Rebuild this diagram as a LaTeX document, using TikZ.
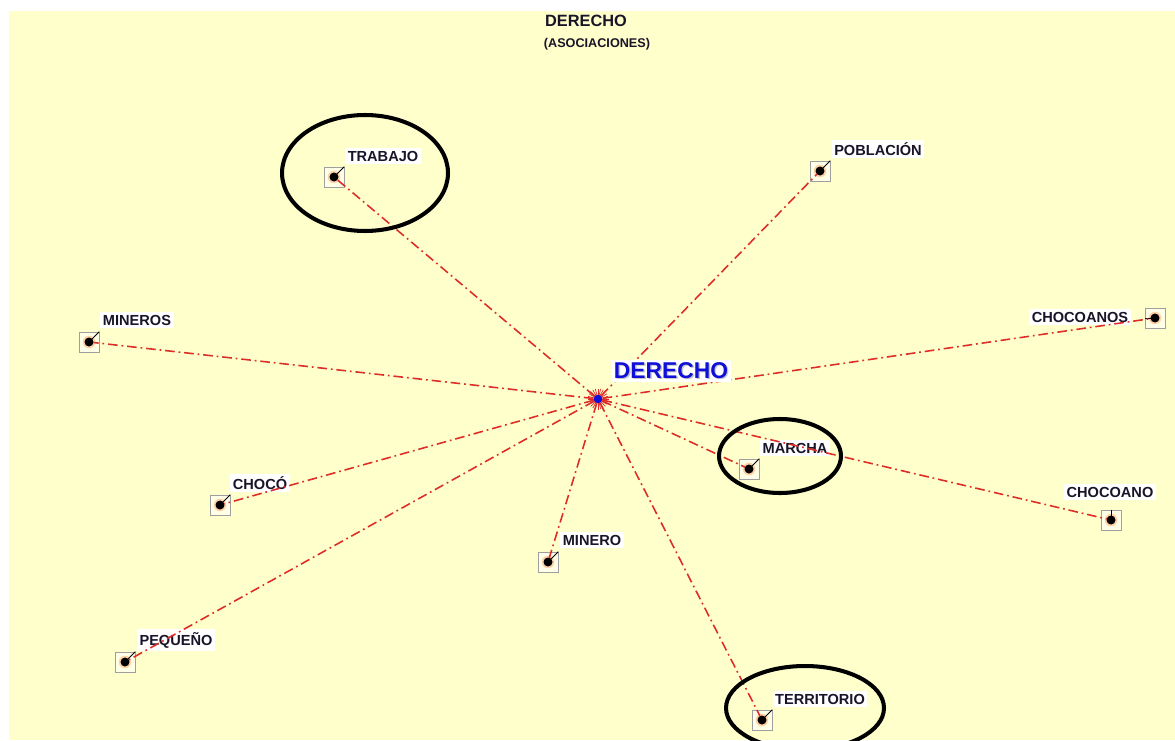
\documentclass[tikz,border=0pt]{standalone}
\usepackage{fontspec}
\setmainfont{Liberation Sans}
\usetikzlibrary{positioning}
\definecolor{papel}{RGB}{255,255,204}
\definecolor{linea}{RGB}{222,45,40}
\definecolor{azul}{RGB}{15,15,215}
\definecolor{tinta}{RGB}{25,20,40}
\tikzstyle{term} = [draw=gray!75, fill=white!55!papel, minimum size=0.4cm, inner sep=0pt,
 path picture={\fill[orange!35] (path picture bounding box.center) circle (0.125cm);
 \fill[black] (path picture bounding box.center) circle (0.09cm);}]
\tikzstyle{word} = [fill=white, inner sep=1.5pt, text=tinta, font=\bfseries\fontsize{8.3}{9}\selectfont]
\tikzstyle{assoc} = [linea, line width=0.9pt, dash pattern=on 5.5pt off 2.2pt on 1pt off 2.2pt, shorten >=0.09cm]
\tikzstyle{leader} = [black, line width=0.5pt]
\tikzstyle{ring} = [black, line width=2.3pt]

\begin{document}
\begin{tikzpicture}[x=0.02cm, y=-0.02cm]
 	\useasboundingbox (0,0) rectangle (1175,740);
 	\clip (0,0) rectangle (1175,740);
 	\fill[papel] (9,11) rectangle (1175,740);
 	
 	\node [text=tinta, font=\bfseries\fontsize{9.3}{10}\selectfont] (titulo) at (586,21) {DERECHO};
 	\node [text=tinta, font=\bfseries\fontsize{7.2}{8}\selectfont] (subtitulo) at (597,44) {(ASOCIACIONES)};
 	
 	\node [term] (trabajo) at (334,177) {};
 	\node [term] (poblacion) at (820,171) {};
 	\node [term] (mineros) at (89,342) {};
 	\node [term] (chocoanos) at (1155,318) {};
 	\node [term] (marcha) at (749,469) {};
 	\node [term] (chocoano) at (1111,520) {};
 	\node [term] (choco) at (220,505) {};
 	\node [term] (minero) at (548,562) {};
 	\node [term] (pequeno) at (125,662) {};
 	\node [term] (territorio) at (762,720) {};
 	
 	\node [word] (l-trabajo) at (383,156) {TRABAJO};
 	\node [word] (l-poblacion) at (878,149) {POBLACIÓN};
 	\node [word] (l-mineros) at (137,320) {MINEROS};
 	\node [word] (l-chocoanos) at (1080,317) {CHOCOANOS};
 	\node [word] (l-marcha) at (795,448) {MARCHA};
 	\node [word] (l-chocoano) at (1110,492) {CHOCOANO};
 	\node [word] (l-choco) at (260,483) {CHOCÓ};
 	\node [word] (l-minero) at (592,540) {MINERO};
 	\node [word] (l-pequeno) at (176,640) {PEQUEÑO};
 	\node [word] (l-territorio) at (820,699) {TERRITORIO};
 	
 	\draw [leader] (trabajo.center) -- (trabajo.north east);
 	\draw [leader] (poblacion.center) -- (poblacion.north east);
 	\draw [leader] (mineros.center) -- (mineros.north east);
 	\draw [leader] (chocoanos.center) -- (chocoanos.west);
 	\draw [leader] (marcha.center) -- (marcha.north east);
 	\draw [leader] (chocoano.center) -- (chocoano.north);
 	\draw [leader] (choco.center) -- (choco.north east);
 	\draw [leader] (minero.center) -- (minero.north east);
 	\draw [leader] (pequeno.center) -- (pequeno.north east);
 	\draw [leader] (territorio.center) -- (territorio.north east);
 	
 	\node [circle, fill=azul, minimum size=0.17cm, inner sep=0pt] (centro) at (598,399) {};
 	
 	\draw [assoc] (centro) -- (trabajo.center);
 	\draw [assoc] (centro) -- (poblacion.center);
 	\draw [assoc] (centro) -- (mineros.center);
 	\draw [assoc] (centro) -- (chocoanos.center);
 	\draw [assoc] (centro) -- (marcha.center);
 	\draw [assoc] (centro) -- (chocoano.center);
 	\draw [assoc] (centro) -- (choco.center);
 	\draw [assoc] (centro) -- (minero.center);
 	\draw [assoc] (centro) -- (pequeno.center);
 	\draw [assoc] (centro) -- (territorio.center);
 	
 	% estrella del centro
 	\foreach \a in {0,15,...,345}
 	\draw [linea, line width=0.4pt] (centro.center) -- ++(\a:0.21cm);
 	\node [circle, fill=azul, minimum size=0.17cm, inner sep=0pt] at (centro) {};
 	
 	\node [fill=white, inner sep=1.5pt, text=azul, font=\bfseries\fontsize{13}{14}\selectfont] (l-centro) at (671,371)
 	{\rlap{\kern0.8pt\raisebox{-0.8pt}{\color{gray!45}DERECHO}}DERECHO};
 	
 	\draw [ring] (365,173) ellipse [x radius=1.66cm, y radius=1.16cm];
 	\draw [ring] (780,456) ellipse [x radius=1.22cm, y radius=0.74cm];
 	\draw [ring] (805,708) ellipse [x radius=1.58cm, y radius=0.84cm];
 	
\end{tikzpicture}
\end{document}
